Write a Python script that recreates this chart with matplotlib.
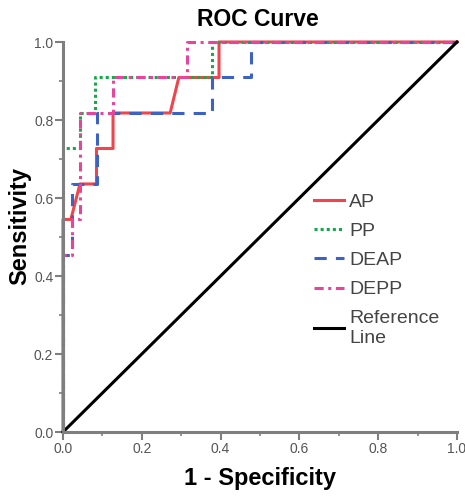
import matplotlib
matplotlib.use('Agg')
import matplotlib.pyplot as plt
import numpy as np

plt.rcParams['font.family'] = ['Liberation Sans', 'DejaVu Sans']

# ROC points (1 - specificity, sensitivity)
ap_x = [0, 0, 0.02, 0.043, 0.085, 0.085, 0.127, 0.127, 0.272, 0.294, 0.396, 0.396, 1]
ap_y = [0, 0.545, 0.545, 0.636, 0.636, 0.727, 0.727, 0.818, 0.818, 0.909, 0.909, 1, 1]

pp_x = [0, 0, 0.043, 0.043, 0.082, 0.082, 0.378, 0.378, 1]
pp_y = [0, 0.727, 0.727, 0.818, 0.818, 0.909, 0.909, 1, 1]

deap_x = [0, 0, 0.022, 0.022, 0.087, 0.087, 0.378, 0.378, 0.477, 0.477, 1]
deap_y = [0, 0.455, 0.455, 0.636, 0.636, 0.818, 0.818, 0.909, 0.909, 1, 1]

depp_x = [0, 0, 0.022, 0.022, 0.043, 0.043, 0.127, 0.127, 0.315, 0.315, 1]
depp_y = [0, 0.455, 0.455, 0.545, 0.545, 0.818, 0.818, 0.909, 0.909, 1, 1]

ref_x = [0, 1]
ref_y = [0, 1]

W, H = 465, 499
fig = plt.figure(figsize=(W/100, H/100), dpi=100)
ax = fig.add_axes([63/W, (H-432)/H, 394/W, 390/H])

lw = 2.2
ax.plot(ap_x, ap_y, color='#f0454d', lw=lw, label='AP', clip_on=False)
ax.plot(pp_x, pp_y, color='#18a84c', lw=lw, linestyle=(0, (1, 1)), label='PP', clip_on=False)
ax.plot(deap_x, deap_y, color='#3d62c4', lw=lw, linestyle=(0, (4, 3)), label='DEAP', clip_on=False)
ax.plot(depp_x, depp_y, color='#e8449a', lw=lw, linestyle=(0, (3, 1.5, 1, 1.5)), label='DEPP', clip_on=False)
ax.plot(ref_x, ref_y, color='black', lw=2.2, label='Reference\nLine', clip_on=False)

ax.set_xlim(0, 1)
ax.set_ylim(0, 1)
ax.set_xticks(np.arange(0, 1.01, 0.2))
ax.set_yticks(np.arange(0, 1.01, 0.2))
ax.set_xticks(np.arange(0.1, 1.0, 0.2), minor=True)
ax.set_yticks(np.arange(0.1, 1.0, 0.2), minor=True)
ax.xaxis.set_major_formatter(matplotlib.ticker.FormatStrFormatter('%.1f'))
ax.yaxis.set_major_formatter(matplotlib.ticker.FormatStrFormatter('%.1f'))

for s in ['top', 'right']:
    ax.spines[s].set_visible(False)
for s in ['left', 'bottom']:
    ax.spines[s].set_color('#7f7f7f')
    ax.spines[s].set_linewidth(2.2)
ax.tick_params(which='major', length=6, width=1.5, color='#7f7f7f', labelcolor='#555555',
               labelsize=10, pad=1)
ax.tick_params(which='minor', length=3, width=1.2, color='#7f7f7f')

fig.text(258/W, 1 - 20/H, 'ROC Curve', ha='center', va='center', fontsize=16.5, fontweight='bold')
fig.text(260/W, 1 - 478/H, '1 - Specificity', ha='center', va='center', fontsize=17, fontweight='bold')
fig.text(20/W, 1 - 226/H, 'Sensitivity', ha='center', va='center', fontsize=17,
         fontweight='bold', rotation=90)

leg = ax.legend(loc='upper left', bbox_to_anchor=(314/W, 1 - 193/H), bbox_transform=fig.transFigure,
                frameon=False, fontsize=14, handlelength=1.55, handletextpad=0.25, labelspacing=0.6,
                borderaxespad=0, borderpad=0)
for t in leg.get_texts():
    t.set_color('#444444')
    t.set_linespacing(1.2)

fig.savefig('out.png', dpi=100)
